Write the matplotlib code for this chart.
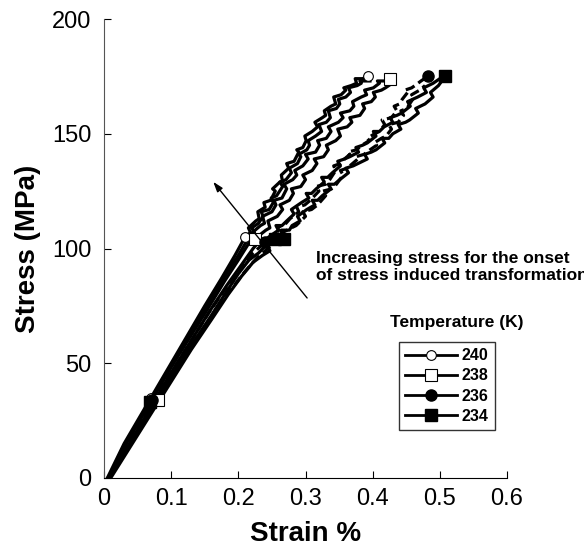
import matplotlib
matplotlib.use("Agg")
import matplotlib.pyplot as plt
from matplotlib.lines import Line2D

plt.rcParams['font.family'] = ['Liberation Sans', 'DejaVu Sans']

# stress-strain curves, two runs per temperature (strain %, stress MPa)
strain_240a = [0.005,0.03,0.06,0.09,0.12,0.15,0.175,0.195,0.21,0.218,0.215,0.226,0.231,0.229,0.24,0.238,0.248,0.255,0.251,0.262,0.266,0.264,0.275,0.272,0.283,0.29,0.287,0.296,0.301,0.299,0.31,0.318,0.314,0.325,0.33,0.328,0.338,0.345,0.342,0.353,0.36,0.357,0.368,0.376,0.374,0.385,0.393]
stress_240a = [0,15,30,45,60,75,87,97,105,107,109,112,113,116,118,120,121,125,126,129,129,132,135,137,138,142,143,144,147,149,151,153,155,157,158,160,162,163,166,167,169,170,171,172,174,174,175]
strain_240b = [0.008,0.035,0.065,0.095,0.125,0.155,0.18,0.2,0.214,0.224,0.22,0.23,0.237,0.234,0.246,0.252,0.249,0.257,0.266,0.262,0.271,0.279,0.276,0.288,0.293,0.29,0.302,0.306,0.304,0.315,0.324,0.32,0.331,0.337,0.334,0.346,0.351,0.349,0.36,0.367,0.364,0.377,0.383,0.381,0.396]
stress_240b = [0,16,31,46,61,76,88,97,104,107,109,111,114,116,117,120,122,123,127,129,130,133,135,137,140,141,143,145,147,149,151,154,155,157,160,161,163,165,166,168,170,171,172,173,173]

strain_238a = [0.006,0.035,0.065,0.095,0.125,0.155,0.18,0.2,0.215,0.224,0.221,0.233,0.239,0.236,0.25,0.256,0.253,0.265,0.272,0.268,0.281,0.287,0.284,0.296,0.304,0.3,0.315,0.321,0.318,0.331,0.338,0.334,0.349,0.356,0.352,0.366,0.372,0.37,0.383,0.391,0.388,0.401,0.41,0.407,0.418,0.426]
stress_238a = [0,16,31,46,60,74,86,95,102,105,107,110,111,114,116,119,121,122,126,128,130,132,134,136,139,141,142,145,147,148,151,153,155,157,159,160,162,164,166,167,169,170,172,173,173,174]
strain_238b = [0.008,0.038,0.068,0.098,0.128,0.158,0.183,0.205,0.222,0.231,0.228,0.241,0.247,0.244,0.258,0.266,0.262,0.276,0.282,0.279,0.293,0.3,0.296,0.31,0.317,0.313,0.327,0.334,0.331,0.345,0.352,0.348,0.362,0.369,0.366,0.381,0.388,0.385,0.398,0.404,0.401,0.413,0.419,0.424]
stress_238b = [0,15,30,45,59,73,84,93,100,103,105,108,109,112,114,117,119,121,124,126,127,130,132,134,137,139,140,143,145,147,149,152,153,155,157,158,161,163,164,166,168,169,170,171]

strain_236a = [0.006,0.036,0.066,0.096,0.126,0.156,0.182,0.205,0.222,0.237,0.25,0.262,0.258,0.271,0.277,0.29,0.287,0.299,0.307,0.32,0.316,0.33,0.336,0.345,0.342,0.352,0.358,0.366,0.363,0.376,0.384,0.395,0.392,0.403,0.41,0.418,0.414,0.428,0.436,0.432,0.44,0.444,0.452,0.448,0.458,0.463,0.472,0.482]
stress_236a = [0,15,30,44,58,72,83,92,98,102,105,107,109,111,113,116,118,119,121,125,127,128,130,134,136,137,139,141,142,143,145,147,148,150,151,154,156,157,160,162,163,165,168,169,170,171,173,175]
strain_236b = [0.008,0.04,0.07,0.1,0.13,0.16,0.186,0.21,0.228,0.244,0.258,0.27,0.266,0.279,0.286,0.3,0.296,0.309,0.318,0.33,0.326,0.339,0.346,0.356,0.352,0.362,0.37,0.378,0.375,0.387,0.396,0.406,0.402,0.413,0.42,0.428,0.424,0.438,0.446,0.442,0.451,0.455,0.462,0.458,0.47,0.478]
stress_236b = [0,15,29,43,57,70,81,90,96,100,103,105,107,109,110,114,116,117,119,123,125,126,128,132,134,135,137,139,140,141,143,145,146,148,149,152,154,155,158,160,161,163,166,167,169,171]

strain_234a = [0.01,0.04,0.07,0.1,0.13,0.16,0.185,0.205,0.222,0.236,0.247,0.243,0.257,0.268,0.264,0.276,0.28,0.292,0.288,0.302,0.314,0.31,0.318,0.325,0.338,0.334,0.343,0.351,0.364,0.36,0.371,0.378,0.392,0.388,0.398,0.405,0.418,0.414,0.424,0.43,0.442,0.438,0.449,0.455,0.468,0.464,0.478,0.49,0.486,0.498,0.508]
stress_234a = [0,14,28,42,56,69,80,88,94,97,99,101,104,106,108,108,110,112,114,117,119,121,121,123,126,128,128,130,133,135,136,137,139,141,142,143,146,148,148,150,152,154,155,156,159,161,163,166,168,171,175]
strain_234b = [0.008,0.038,0.068,0.098,0.128,0.158,0.182,0.2,0.216,0.23,0.24,0.236,0.25,0.26,0.256,0.265,0.272,0.283,0.279,0.294,0.305,0.301,0.309,0.316,0.328,0.324,0.333,0.34,0.352,0.348,0.358,0.366,0.379,0.375,0.385,0.392,0.405,0.401,0.41,0.417,0.43,0.426,0.436,0.443,0.456,0.452,0.467,0.48,0.476,0.49,0.5]
stress_234b = [0,14.5,29,43,57,70,81,89,95,98,101,103,106,108,110,110,112,115,117,120,122,124,124,126,129,131,131,133,136,138,139,140,142,144,145,146,149,151,151,153,155,157,158,159,162,164,166,168,170,172,174]

# marker points for each temperature
temps = ['240', '238', '236', '234']
mark_strain_240 = [0.07, 0.21, 0.393]
mark_stress_240 = [35, 105, 175]
mark_strain_238 = [0.08, 0.225, 0.426]
mark_stress_238 = [34, 104, 174]
mark_strain_236 = [0.072, 0.24, 0.482]
mark_stress_236 = [34, 103, 175]
mark_strain_234 = [0.068, 0.255, 0.268, 0.508]
mark_stress_234 = [33, 104, 104, 175]

xticks = [0, 0.1, 0.2, 0.3, 0.4, 0.5, 0.6]
xticklabels = ['0', '0.1', '0.2', '0.3', '0.4', '0.5', '0.6']
yticks = [0, 50, 100, 150, 200]

fig = plt.figure(figsize=(5.84, 5.58), dpi=100)
ax = fig.add_axes([104/584, 80/558, 403/584, 459/558])

lw = 2.3
ax.plot(strain_240a, stress_240a, color='k', lw=lw)
ax.plot(strain_240b, stress_240b, color='k', lw=lw)
ax.plot(strain_238a, stress_238a, color='k', lw=lw)
ax.plot(strain_238b, stress_238b, color='k', lw=lw)
ax.plot(strain_236a, stress_236a, color='k', lw=lw, dashes=(3, 1.5))
ax.plot(strain_236b, stress_236b, color='k', lw=lw, dashes=(3, 1.5))
ax.plot(strain_234a, stress_234a, color='k', lw=lw)
ax.plot(strain_234b, stress_234b, color='k', lw=lw)

ax.plot(mark_strain_240, mark_stress_240, 'o', ms=7, mfc='white', mec='k', mew=0.8)
ax.plot(mark_strain_238, mark_stress_238, 's', ms=8, mfc='white', mec='k', mew=0.8)
ax.plot(mark_strain_236, mark_stress_236, 'o', ms=8, mfc='k', mec='k')
ax.plot(mark_strain_234, mark_stress_234, 's', ms=9, mfc='k', mec='k')

ax.annotate('', xy=(0.16, 130), xytext=(0.305, 77.5),
            arrowprops=dict(arrowstyle='-|>,head_length=0.6,head_width=0.2', lw=1, color='k'))

ax.set_xlim(0, 0.6)
ax.set_ylim(0, 200)
ax.set_xticks(xticks)
ax.set_xticklabels(xticklabels)
ax.set_yticks(yticks)
ax.spines['top'].set_visible(False)
ax.spines['right'].set_visible(False)
ax.spines['left'].set_color('#555555')
ax.tick_params(direction='in', length=5, labelsize=17)
ax.tick_params(axis='y', pad=9)
ax.tick_params(axis='x', pad=7)
ax.set_xlabel('Strain %', fontsize=20, fontweight='bold', labelpad=8)
ax.set_ylabel('Stress (MPa)', fontsize=20, fontweight='bold', labelpad=8)

fig.text(316/584, 1 - 267/558, 'Increasing stress for the onset\nof stress induced transformation',
         fontsize=12.5, fontweight='bold', ha='left', va='center', linespacing=1.1)
fig.text(457/584, 1 - 322/558, 'Temperature (K)', fontsize=12.5, fontweight='bold',
         ha='center', va='center')

handles = [
    Line2D([], [], color='k', lw=2, marker='o', ms=7, mfc='white', mec='k', mew=0.8),
    Line2D([], [], color='k', lw=2, marker='s', ms=8, mfc='white', mec='k', mew=0.8),
    Line2D([], [], color='k', lw=2, marker='o', ms=8, mfc='k', mec='k'),
    Line2D([], [], color='k', lw=2, marker='s', ms=9, mfc='k', mec='k'),
]
leg = fig.legend(handles, temps, loc='upper left', bbox_to_anchor=(399/584, 1 - 342/558),
                 prop={'weight': 'bold', 'size': 11.5}, frameon=True, fancybox=False,
                 borderaxespad=0, handlelength=3.2, handletextpad=0.3, labelspacing=0.32,
                 borderpad=0.4)
leg.get_frame().set_edgecolor('k')
leg.get_frame().set_linewidth(1)

fig.savefig('out.png', dpi=100)
